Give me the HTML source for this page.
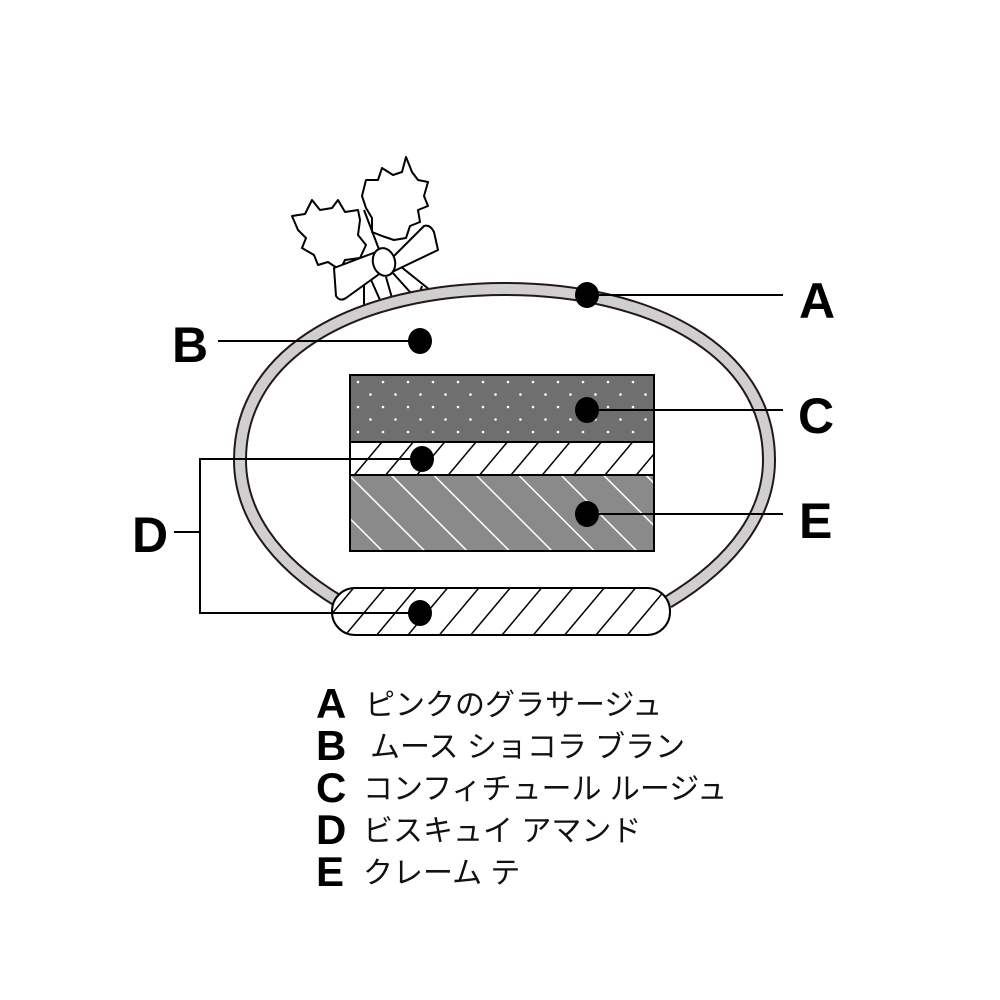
<!DOCTYPE html>
<html><head><meta charset="utf-8"><style>
html,body{margin:0;padding:0;background:#fff;}
svg{display:block;}
.L{font-family:"Liberation Sans",Arial,sans-serif;font-weight:bold;font-size:50px;fill:#000;}
.J{font-family:"Liberation Sans","Noto Sans CJK JP",sans-serif;font-size:30px;fill:#111;}
.K{font-family:"Liberation Sans",Arial,sans-serif;font-weight:bold;font-size:42px;fill:#000;}
</style></head><body>
<svg width="1000" height="1000" viewBox="0 0 1000 1000" xmlns="http://www.w3.org/2000/svg">
<defs>
<pattern id="dots" width="25" height="25" patternUnits="userSpaceOnUse" x="350" y="375">
<rect width="25" height="25" fill="#6f6f6f"/>
<circle cx="8" cy="7" r="1.3" fill="#fff"/><circle cx="20.5" cy="19.5" r="1.3" fill="#fff"/>
</pattern>
<pattern id="hatch" width="24" height="24" patternUnits="userSpaceOnUse" patternTransform="rotate(40)">
<rect width="24" height="24" fill="#fff"/><line x1="0" y1="0" x2="0" y2="24" stroke="#000" stroke-width="3"/>
</pattern>
<pattern id="stripe" width="30" height="30" patternUnits="userSpaceOnUse" patternTransform="rotate(-45)">
<rect width="30" height="30" fill="#8a8a8a"/><line x1="0" y1="0" x2="0" y2="30" stroke="#fff" stroke-width="3"/>
</pattern>
</defs>

<!-- holly -->
<g fill="#fff" stroke="#000" stroke-width="2" stroke-linejoin="round">
<path d="M292,216 L305,214 L312,200 L320,210 L332,208 L338,200 L345,212 L358,210 L360,220 L358,235 L366,245 L360,258 L345,260 L340,270 L328,262 L318,265 L314,255 L302,248 L306,238 L298,230 Z"/>
<path d="M362,196 L366,180 L378,180 L382,168 L393,175 L402,172 L406,157 L412,172 L418,180 L428,182 L424,196 L428,206 L418,210 L420,222 L410,226 L406,238 L394,240 L382,236 L372,232 L372,218 L366,208 Z"/>
<line x1="364" y1="210" x2="380" y2="252" />
<path d="M368,273 L380,300 M386,277 L392,298 M392,272 L410,292 M400,266 L430,290 L420,292 L422,286" fill="none"/>
<line x1="364" y1="275" x2="364" y2="308"/>
<path d="M334,268 L376,252 L382,272 L346,298 Q340,302 336,296 Z"/>
<path d="M388,262 L424,226 Q430,224 434,232 L438,250 L392,272 Z"/>
<ellipse cx="384" cy="262" rx="11" ry="14" transform="rotate(-15 384 262)"/>
</g>

<!-- ring -->
<path id="ring" d="M340,602 C270,560 240,510 240,460 C240,350 360,289 505,289 C650,289 769,350 769,460 C769,510 738,560 668,602" fill="#fff" stroke="#231815" stroke-width="14"/>
<path d="M340,602 C270,560 240,510 240,460 C240,350 360,289 505,289 C650,289 769,350 769,460 C769,510 738,560 668,602" fill="none" stroke="#cfcfcf" stroke-width="10"/>

<!-- layers -->
<rect x="350" y="375" width="304" height="67" fill="url(#dots)" stroke="#000" stroke-width="2"/>
<rect x="350" y="442" width="304" height="33" fill="url(#hatch)" stroke="#000" stroke-width="2"/>
<rect x="350" y="475" width="304" height="76" fill="url(#stripe)" stroke="#000" stroke-width="2"/>
<rect x="332" y="588" width="338" height="47" rx="23" fill="url(#hatch)" stroke="#000" stroke-width="2"/>

<!-- leaders -->
<g stroke="#000" stroke-width="2" fill="none">
<line x1="587" y1="295" x2="783" y2="295"/>
<line x1="218" y1="341" x2="420" y2="341"/>
<line x1="587" y1="410" x2="783" y2="410"/>
<line x1="587" y1="514" x2="783" y2="514"/>
<polyline points="422,459 200,459 200,613 420,613"/>
<line x1="174" y1="532" x2="200" y2="532"/>
</g>
<g fill="#000">
<ellipse cx="587" cy="295" rx="12" ry="13"/>
<ellipse cx="420" cy="341" rx="12" ry="13"/>
<ellipse cx="587" cy="410" rx="12" ry="13"/>
<ellipse cx="422" cy="459" rx="12" ry="13"/>
<ellipse cx="587" cy="514" rx="12" ry="13"/>
<ellipse cx="420" cy="613" rx="12" ry="13"/>
</g>

<text class="L" x="799" y="318">A</text>
<text class="L" x="172" y="362">B</text>
<text class="L" x="798" y="433">C</text>
<text class="L" x="132" y="552">D</text>
<text class="L" x="799" y="538">E</text>

<text class="K" x="316" y="718">A</text><text class="J" x="365" y="715">ピンクのグラサージュ</text>
<text class="K" x="316" y="760">B</text><text class="J" x="370" y="757">ムース ショコラ ブラン</text>
<text class="K" x="316" y="802">C</text><text class="J" x="363" y="799">コンフィチュール ルージュ</text>
<text class="K" x="316" y="844">D</text><text class="J" x="363" y="841">ビスキュイ アマンド</text>
<text class="K" x="316" y="886">E</text><text class="J" x="363" y="883">クレーム テ</text>
</svg>
</body></html>
